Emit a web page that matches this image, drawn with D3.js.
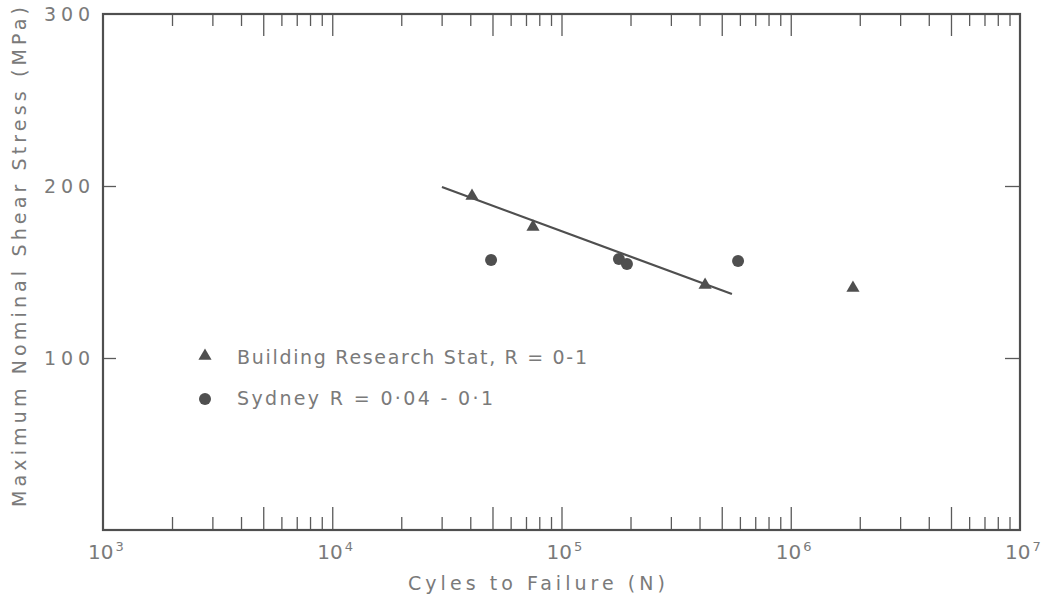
<!DOCTYPE html>
<html>
<head>
<meta charset="utf-8">
<script src="https://cdn.jsdelivr.net/npm/d3@7"></script>
<style>
  html, body { margin: 0; padding: 0; background: #fff; }
  svg { display: block; }
  text { font-family: "DejaVu Sans", sans-serif; fill: #7a7a7a; }
</style>
</head>
<body>
<svg id="chart" width="1045" height="601"></svg>
<script>
// Fatigue data: cycles to failure vs maximum nominal shear stress
const brsCycles = [40700, 75100, 423000, 1868000];
const brsStress = [194.2, 176.2, 142.4, 140.7];

const sydneyCycles = [49300, 178000, 193000, 589000];
const sydneyStress = [157.0, 157.6, 154.7, 156.4];

// Fitted S-N line through the Building Research Station results
const fitCycles = [30100, 554000];
const fitStress = [199.4, 137.2];

const xDecades = [3, 4, 5, 6, 7];
const yTickValues = [100, 200, 300];

const legendLabels = ["Building Research Stat, R = 0-1", "Sydney  R = 0·04 - 0·1"];

const svg = d3.select("#chart");
const margin = { left: 103, top: 14, right: 25, bottom: 71 };
const W = 1045, H = 601;
const x = d3.scaleLog().domain([1e3, 1e7]).range([margin.left, W - margin.right]);
const y = d3.scaleLinear().domain([0, 300]).range([H - margin.bottom, margin.top]);

const ink = "#4f4f4f";

// Minor ticks within each decade; 5x and decade marks are drawn longer
const shortTicks = [], longTicks = [];
for (let d = 3; d < 7; d++) {
  for (let m = 2; m <= 9; m++) {
    (m === 5 ? longTicks : shortTicks).push(m * Math.pow(10, d));
  }
  if (d > 3) longTicks.push(Math.pow(10, d));
}

function styleAxis(g) {
  g.select(".domain").remove();
  g.selectAll(".tick line").attr("stroke", "#5a5a5a").attr("stroke-width", 1.3);
  g.selectAll(".tick text").remove();
}

const bottomY = y(0), topY = y(300);
svg.append("g").attr("transform", `translate(0,${bottomY})`)
  .call(d3.axisBottom(x).tickValues(shortTicks).tickSize(-13)).call(styleAxis);
svg.append("g").attr("transform", `translate(0,${bottomY})`)
  .call(d3.axisBottom(x).tickValues(longTicks).tickSize(-23)).call(styleAxis);
svg.append("g").attr("transform", `translate(0,${topY})`)
  .call(d3.axisTop(x).tickValues(shortTicks).tickSize(-12)).call(styleAxis);
svg.append("g").attr("transform", `translate(0,${topY})`)
  .call(d3.axisTop(x).tickValues(longTicks).tickSize(-22)).call(styleAxis);

svg.append("g").attr("transform", `translate(${x(1e3)},0)`)
  .call(d3.axisLeft(y).tickValues([100, 200]).tickSize(-13)).call(styleAxis);
svg.append("g").attr("transform", `translate(${x(1e7)},0)`)
  .call(d3.axisRight(y).tickValues([100, 200]).tickSize(-15)).call(styleAxis);

// Plot frame
svg.append("rect")
  .attr("x", x(1e3)).attr("y", topY)
  .attr("width", x(1e7) - x(1e3)).attr("height", bottomY - topY)
  .attr("fill", "none").attr("stroke", ink).attr("stroke-width", 2.2);

// Y tick labels
svg.append("g").selectAll("text").data(yTickValues).join("text")
  .attr("x", 90).attr("y", d => y(d) + 7)
  .attr("text-anchor", "end")
  .attr("font-size", 19)
  .attr("textLength", 46).attr("lengthAdjust", "spacing")
  .text(d => d);

// X tick labels as powers of ten
const xl = svg.append("g").selectAll("text").data(xDecades).join("text")
  .attr("x", d => x(Math.pow(10, d)) - 15)
  .attr("y", 559)
  .attr("font-size", 20);
xl.append("tspan").text("10");
xl.append("tspan").attr("dx", 2).attr("dy", -8).attr("font-size", 13).text(d => d);

// Axis titles
svg.append("text")
  .attr("x", 408).attr("y", 590)
  .attr("font-size", 19)
  .attr("textLength", 257).attr("lengthAdjust", "spacing")
  .text("Cyles to Failure (N)");

svg.append("text")
  .attr("transform", "translate(26,507) rotate(-90)")
  .attr("font-size", 19)
  .attr("textLength", 500).attr("lengthAdjust", "spacing")
  .text("Maximum Nominal Shear Stress (MPa)");

// Fitted line
svg.append("path")
  .datum(fitCycles.map((c, i) => [c, fitStress[i]]))
  .attr("d", d3.line().x(d => x(d[0])).y(d => y(d[1])))
  .attr("fill", "none").attr("stroke", ink).attr("stroke-width", 2.2);

// Markers
const tri = d3.symbol().type(d3.symbolTriangle).size(75);
svg.append("g").selectAll("path").data(brsCycles.map((c, i) => [c, brsStress[i]])).join("path")
  .attr("d", tri)
  .attr("transform", d => `translate(${x(d[0])},${y(d[1])})`)
  .attr("fill", ink);

svg.append("g").selectAll("circle").data(sydneyCycles.map((c, i) => [c, sydneyStress[i]])).join("circle")
  .attr("cx", d => x(d[0])).attr("cy", d => y(d[1]))
  .attr("r", 6)
  .attr("fill", ink);

// Legend
const legend = svg.append("g");
legend.append("path").attr("d", tri).attr("transform", "translate(205,356)").attr("fill", ink);
legend.append("circle").attr("cx", 205).attr("cy", 399).attr("r", 6).attr("fill", ink);
legend.append("text").attr("x", 237).attr("y", 364).attr("font-size", 19)
  .attr("textLength", 350).attr("lengthAdjust", "spacing").text(legendLabels[0]);
legend.append("text").attr("x", 237).attr("y", 405).attr("font-size", 19)
  .attr("textLength", 256).attr("lengthAdjust", "spacing").text(legendLabels[1]);
</script>
</body>
</html>
